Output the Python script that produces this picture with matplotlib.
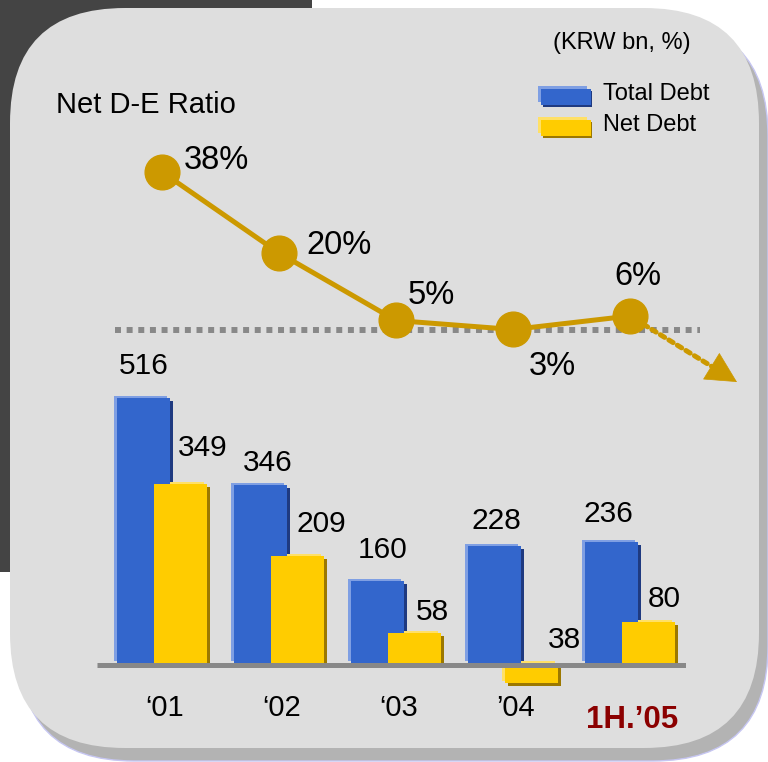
import matplotlib
matplotlib.use("Agg")
import matplotlib.pyplot as plt
from matplotlib.patches import FancyBboxPatch, Rectangle
from matplotlib.transforms import offset_copy

plt.rcParams['font.family'] = ['Liberation Sans', 'DejaVu Sans']

# data (KRW bn, %)
periods = ['\u201801', '\u201802', '\u201803', '\u201904', '1H.\u201905']
total_debt = [516, 346, 160, 228, 236]
net_debt = [349, 209, 58, -38, 80]
net_de_ratio = [38, 20, 5, 3, 6]

# label nudges in pixels (dx, dy)
total_lbl_off = [(0, 32), (7, 22), (5, 31), (2, 25), (-3, 28)]
net_lbl_off = [(22, 36), (24, 32), (18, 21), (33, 43), (16, 23)]
ratio_lbl_off = [(54, 11), (60, 7), (35, 25), (39, -37), (8, 39)]

BLUE, BLUE_LT, BLUE_DK = '#3366CC', '#7F9FE3', '#1F3A80'
GOLD, GOLD_LT, GOLD_DK = '#FFCC00', '#FFE066', '#9C7800'
LINE = '#CC9900'

fig = plt.figure(figsize=(7.68, 7.62), dpi=100)
fig.patch.set_facecolor('white')

# background / rounded panel
bg = fig.add_axes([0, 0, 1, 1])
bg.set_xlim(0, 768)
bg.set_ylim(762, 0)
bg.axis('off')
bg.add_patch(FancyBboxPatch((-60, -60), 372, 632, boxstyle='round,pad=0,rounding_size=30',
                            fc='#444444', ec='none'))
bg.add_patch(FancyBboxPatch((19, 21), 749, 740, boxstyle='round,pad=0,rounding_size=115',
                            fc='#B3B3B3', ec='#C6C6F2', lw=1))
bg.add_patch(FancyBboxPatch((10, 8), 749, 740, boxstyle='round,pad=0,rounding_size=115',
                            fc='#DEDEDE', ec='none'))
bg.plot([115, 700], [330, 330], color='#888888', lw=4.3, dashes=(1, 0.95),
        dash_capstyle='butt')

bg.text(56, 105, 'Net D-E Ratio', fontsize=21, ha='left', va='center')
bg.text(622, 43, '(KRW bn, %)', fontsize=17, ha='center', va='center')

# legend swatches
for y0, lt, dk, mn, name in [(86, BLUE_LT, BLUE_DK, BLUE, 'Total Debt'),
                             (117, GOLD_LT, GOLD_DK, GOLD, 'Net Debt')]:
    bg.add_patch(Rectangle((538, y0), 49, 16, fc=lt, ec='none'))
    bg.add_patch(Rectangle((543, y0 + 5), 49, 16, fc=dk, ec='none'))
    bg.add_patch(Rectangle((541, y0 + 3), 50, 16, fc=mn, ec='none'))
    bg.text(603, y0 + 8, name, fontsize=17, ha='left', va='center')

# bar chart
ax = fig.add_axes([97 / 768, 0.08945, 589 / 768, 0.41822])
ax.set_xlim(-0.556, 4.479)
ax.set_ylim(-60, 560)
ax.axis('off')

x = list(range(len(periods)))
w = 0.453
xb = [i - 0.158 for i in x]
xn = [i + 0.158 for i in x]


def shaded_bars(xs, vals, main, light, dark):
    for col, dx, dy, z in [(dark, 3, -3, 1), (light, -3, 2, 2), (main, 0, 0, 3)]:
        bars = ax.bar(xs, vals, width=w, color=col, zorder=z, linewidth=0)
        tr = offset_copy(ax.transData, fig, x=dx, y=dy, units='dots')
        for b in bars:
            b.set_transform(tr)


shaded_bars(xb, total_debt, BLUE, BLUE_LT, BLUE_DK)
shaded_bars(xn, net_debt, GOLD, GOLD_LT, GOLD_DK)

ax.plot(ax.get_xlim(), [0, 0], color='#888888', lw=3.6, solid_capstyle='butt', zorder=5,
        transform=offset_copy(ax.transData, fig, y=-2.5, units='dots'))

for xi, v, off in zip(xb, total_debt, total_lbl_off):
    ax.annotate(f'{v}', (xi, v), xytext=off, textcoords='offset pixels',
                ha='center', va='center', fontsize=21.5)
for xi, v, off in zip(xn, net_debt, net_lbl_off):
    ax.annotate(f'{abs(v)}', (xi, v), xytext=off, textcoords='offset pixels',
                ha='center', va='center', fontsize=21.5)

for i, p in enumerate(periods):
    last = i == len(periods) - 1
    ax.annotate(p, (i, 0), xytext=(2 if last else 3, -57 if last else -45),
                textcoords='offset pixels', ha='center', va='center',
                fontsize=22.5 if last else 21,
                fontweight='bold' if last else 'normal',
                color='#8B0000' if last else 'black')

# net D-E ratio line
lx = fig.add_axes([97 / 768, 0.52756, 589 / 768, 0.28871])
lx.set_xlim(-0.556, 4.479)
lx.set_ylim(-3.78, 45.11)
lx.axis('off')
lx.plot(x, net_de_ratio, color=LINE, lw=3.6, marker='o', markersize=25,
        clip_on=False, zorder=3)
for xi, v, off in zip(x, net_de_ratio, ratio_lbl_off):
    lx.annotate(f'{v}%', (xi, v), xytext=off, textcoords='offset pixels',
                ha='center', va='center', fontsize=23.5)

# dotted trend arrow after the last point: dotted shaft + solid head
tip = (107, -66)
lx.annotate('', xy=(x[-1], net_de_ratio[-1]), xytext=tip, textcoords='offset pixels',
            arrowprops=dict(arrowstyle='-', color=LINE, lw=3.6,
                            linestyle=(0, (1, 1.0)), shrinkA=18, shrinkB=13),
            annotation_clip=False)
lx.annotate('', xy=(x[-1], net_de_ratio[-1]), xytext=tip, textcoords='offset pixels',
            arrowprops=dict(arrowstyle='<|-,head_length=1.05,head_width=0.54',
                            mutation_scale=20, color=LINE, lw=0.5,
                            shrinkA=0, shrinkB=68),
            annotation_clip=False)

fig.savefig('out.png', dpi=100)
